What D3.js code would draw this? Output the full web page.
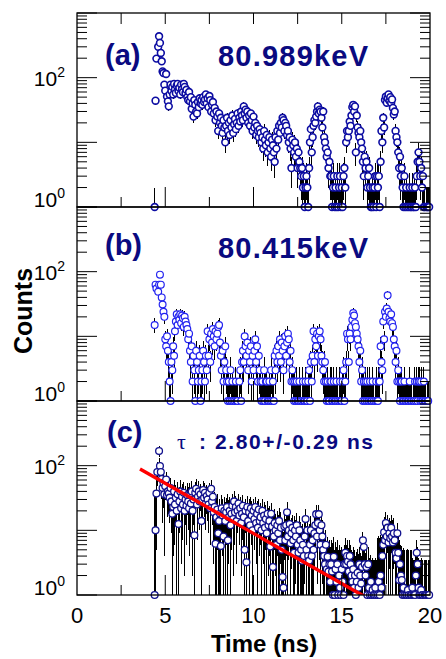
<!DOCTYPE html>
<html><head><meta charset="utf-8">
<script src="https://cdn.jsdelivr.net/npm/d3@7"></script>
<style>
body{margin:0;background:#fff}
svg{display:block}
text{font-family:"Liberation Sans",Arial,Helvetica,sans-serif}
</style>
</head><body>
<svg id="chart" width="446" height="659"></svg>
<script>
// ---- data (time bins of 0.05 ns starting at 4.40 ns) ----
const binStart = 4.40, binWidth = 0.05;

const countsA = [
  1,44,197,0,300,437,345,241,179,125,118,78,63,114,51,43,36,55,78,62,
  72,55,80,66,58,75,80,62,70,55,78,66,60,80,72,58,65,50,45,60,
  43,50,33,40,25,45,38,30,28,42,35,48,40,45,38,50,42,46,55,40,
  48,35,52,45,30,38,42,28,34,22,30,25,15,28,20,24,18,14,22,17,
  10,18,24,15,20,13,22,17,26,14,19,23,16,20,28,18,24,21,30,26,
  22,36,28,32,24,30,20,26,18,28,22,15,25,17,20,13,18,15,12,16,
  14,10,12,8,15,11,9,13,7,10,12,8,6,11,9,7,5,12,8,15,
  11,18,14,20,17,24,22,15,20,18,13,15,10,12,8,4,11,9,7,10,
  6,8,4,7,5,4,3,4,2,3,1,2,3,2,1,4,10,16,7,12,
  18,22,20,25,30,36,28,32,30,24,17,30,12,10,8,6,7,4,5,3,
  3,1,2,3,1,2,1,3,1,2,3,1,2,1,3,4,2,10,15,12,
  15,21,18,26,35,38,30,36,7,26,17,14,12,15,10,8,5,3,6,4,
  5,2,3,4,2,1,1,2,1,2,3,1,3,2,3,1,5,15,10,24,
  17,45,51,41,48,55,44,50,41,46,34,27,30,15,12,10,7,4,6,3,
  4,2,1,3,1,2,1,0,1,2,1,1,2,1,1,2,1,3,5,7,
  5,3,4,2,3,1,1,0,1,1,1,1
];

const countsB = [
  15,63,55,0,49,63,90,63,40,31,24,20,9,7,10,6,4,2,1,4,
  3,7,5,12,17,22,15,20,18,22,16,21,19,14,20,17,15,13,9,11,
  6,4,7,2,5,3,1,6,4,2,3,5,1,2,3,6,4,2,5,3,
  12,5,9,4,11,8,13,10,7,12,9,11,14,15,8,5,3,6,2,4,
  7,3,2,1,2,1,3,1,2,1,0,1,2,1,1,0,2,3,1,4,
  6,4,10,7,5,8,3,6,4,7,2,5,3,6,9,4,7,2,5,3,
  2,1,2,1,3,1,2,2,1,1,2,1,3,1,2,1,5,3,6,4,
  7,5,9,4,8,6,3,7,10,5,8,11,9,4,6,2,3,2,1,2,
  1,2,1,1,2,1,0,1,2,1,1,2,1,1,2,3,1,4,2,5,
  12,4,9,7,11,5,10,12,9,5,4,3,2,4,2,1,2,1,1,2,
  2,1,1,2,1,1,2,1,0,1,2,1,1,2,3,1,2,4,11,9,
  4,11,9,14,18,23,21,16,14,11,9,7,4,6,2,3,1,2,1,2,
  1,2,1,1,2,1,1,2,1,0,1,2,1,1,2,2,7,4,3,17,
  9,24,20,27,43,24,19,17,22,16,14,9,7,4,6,2,3,2,1,2,
  2,1,1,2,1,1,0,1,1,2,1,1,0,1,1,2,1,2,1,2,
  2,1,2,1,1,2,1,1,0,1,1,0
];

const countsC = [
  1,10,37,80,0,168,99,80,62,45,54,36,48,61,35,40,37,32,45,28,
  18,23,40,25,32,20,36,12.5,28,40,22,33,25,38,20,30,24,35,28,22,
  35,26,40,20,30,8.4,38,44,25,33,40,28,36,14,30,42,32,38,26,34,
  30,25,38,22,44,28,33,19,23,6.2,16,21,9,14,18,5.7,22,17,8,20,
  14,19,23,7,16,20,12,18,24,15,28,19,23,14,20,26,17,22,13,18,
  24,16,5,20,3.2,23,14,19,12,22,17,10,20,15,23,13,18,11,21,14,
  16,10,20,13,17,11,15,9,18,12,14,5.6,18,11.5,2.7,8,13,10,6,12,
  9,14,7,11,5,1.9,1.3,11.5,7,12,19,8,10,12.5,6.3,9,11,7,4.5,10,
  8,12,6,4.5,10,7,5,3.4,6,4,8,15,5,10,4,3.4,6,10,4,7,
  5,9,12,17.8,8,13,17.8,10,6,12,8,5,4,3,6,2.5,3.9,2.3,3,1.6,
  3,2.3,1,3.9,1,2.5,1.6,3,1,2,1.3,1,2.5,1.6,1,3,4.5,3,4,3.3,
  2.3,4,3,2,1.6,2.5,1.3,2,1,1.6,2.2,1.3,3,2,1.5,2.7,7,5.5,3,2,
  2.7,1,3,1.3,1,1.6,1,1.2,1,1,1.3,1,0,1,1.6,1,2,1.3,4,6,
  9.3,7,13,8,11,6.5,9,7.5,11,8,6.5,9,7,4.5,3.7,9,4.5,1.7,3,2,
  1.7,1,1.3,1,0,1,1,1.2,1,0,1,1,1.3,1,1,1,2,4.5,3,1.3,
  1,1,1.2,1,1,0,1,1,1,0,1,1
];
// typical uncertainty of panel (c) points, per 1-ns interval starting at 4 ns
const errorsC = [32,19,18,16,13,11,10,8,6.5,6.5,4,3,2.5,6.5,4,2.5];

const panelTags = ["(a)", "(b)", "(c)"];
const panelTitles = ["80.989keV", "80.415keV", ": 2.80+/-0.29 ns"];
const xTickValues = [0, 5, 10, 15, 20];
const yLabelDecades = [0, 2];
const xTitle = "Time (ns)";
const yTitle = "Counts";
// exponential fit shown in panel (c)
const fitTau = 2.80, fitStart = 3.57, fitEnd = 16.3, fitAmp = 89;

// ---- layout ----
const svg = d3.select("#chart");
const L = 77, R = 430;
const panelTops = [13, 207, 401];
const panelH = 194;
const x = d3.scaleLinear().domain([0, 20]).range([L, R]);
const circleColors = ["#0c0ca2", "#2424f0", "#12128e"];
const circleWidths = [1.6, 1.2, 1.3];

const series = [countsA, countsB, countsC];

series.forEach((counts, p) => {
  const top = panelTops[p], bottom = top + panelH;
  const y = d3.scaleLog().domain([1, 1000]).range([bottom, top]);
  const g = svg.append("g");
  const clipId = "clip" + p;
  svg.append("clipPath").attr("id", clipId)
    .append("rect").attr("x", L).attr("y", top).attr("width", R - L).attr("height", panelH);

  const pts = counts.map((c, i) => {
    const t = binStart + i * binWidth;
    const e = p === 2 ? errorsC[Math.min(errorsC.length - 1, Math.floor(t) - 4)] : Math.sqrt(c);
    return { t, c, e };
  }).filter(d => d.c > 0);

  // error bars
  g.append("g").attr("clip-path", `url(#${clipId})`)
    .selectAll("line").data(pts).join("line")
    .attr("x1", d => x(d.t)).attr("x2", d => x(d.t))
    .attr("y1", d => d.c - d.e > 0.5 ? y(Math.max(1, d.c - d.e)) : bottom)
    .attr("y2", d => y(Math.min(1000, d.c + d.e)))
    .attr("stroke", "#000").attr("stroke-width", 1)
    .attr("shape-rendering", "crispEdges");

  // points
  g.append("g").selectAll("circle").data(pts).join("circle")
    .attr("cx", d => x(d.t)).attr("cy", d => y(d.c)).attr("r", 3.4)
    .attr("fill", "#fff").attr("stroke", circleColors[p]).attr("stroke-width", circleWidths[p]);

  // fit line (drawn over the points)
  if (p === 2) {
    const fitPts = d3.range(fitStart, fitEnd, 0.05).map(t => [t, fitAmp * Math.exp(-(t - fitStart) / fitTau)]);
    g.append("path").attr("clip-path", `url(#${clipId})`)
      .datum(fitPts)
      .attr("fill", "none").attr("stroke", "#ff0000").attr("stroke-width", 3.4)
      .attr("d", d3.line().x(d => x(d[0])).y(d => y(Math.max(0.5, d[1]))));
  }

  // frame
  svg.append("rect").attr("x", L).attr("y", top).attr("width", R - L).attr("height", panelH)
    .attr("fill", "none").attr("stroke", "#000").attr("stroke-width", 1.3);

  // y ticks (log, both sides, inward)
  const ax = svg.append("g").attr("stroke", "#000").attr("stroke-width", 1);
  for (let k = 0; k <= 3; k++) {
    const v = Math.pow(10, k);
    [[L, 1], [R, -1]].forEach(([x0, dir]) => {
      ax.append("line").attr("x1", x0).attr("x2", x0 + dir * 20).attr("y1", y(v)).attr("y2", y(v));
    });
    if (k < 3) {
      for (let m = 2; m <= 9; m++) {
        const vv = m * v;
        [[L, 1], [R, -1]].forEach(([x0, dir]) => {
          ax.append("line").attr("x1", x0).attr("x2", x0 + dir * 10).attr("y1", y(vv)).attr("y2", y(vv));
        });
      }
    }
  }
  // x ticks every 2.5: bottom edge of every panel, top edge only for the first panel
  for (let v = 2.5; v < 20; v += 2.5) {
    const len = (v % 5 === 0) ? 20 : 10;
    ax.append("line").attr("x1", x(v)).attr("x2", x(v)).attr("y1", bottom).attr("y2", bottom - len);
    if (p === 0) {
      ax.append("line").attr("x1", x(v)).attr("x2", x(v)).attr("y1", top).attr("y2", top + 11);
    }
  }

  // y tick labels
  yLabelDecades.forEach(k => {
    const yy = y(Math.pow(10, k)) + (k === 0 ? 0 : 8);
    const tx = svg.append("text").attr("x", 65).attr("y", yy).attr("text-anchor", "end")
      .attr("font-size", 21).attr("fill", "#000").text("10");
    tx.append("tspan").attr("dy", -9).attr("font-size", 14).text(String(k));
  });

  // panel tag
  svg.append("text").attr("x", p === 2 ? 107 : 105).attr("y", [65, 255, 442][p])
    .attr("font-size", 29).attr("font-weight", "bold").attr("fill", "#0a0a80").text(panelTags[p]);
  if (p < 2) {
    svg.append("text").attr("x", 218).attr("y", [66, 258][p])
      .attr("font-size", 29).attr("font-weight", "bold").attr("fill", "#0a0a80")
      .attr("textLength", 150).attr("lengthAdjust", "spacing").text(panelTitles[p]);
  } else {
    svg.append("text").attr("x", 177).attr("y", 449)
      .attr("font-size", 22).attr("fill", "#0a0a80")
      .style("font-family", "'Liberation Serif','DejaVu Serif',serif").text("τ");
    svg.append("text").attr("x", 199).attr("y", 449)
      .attr("font-size", 21).attr("font-weight", "bold").attr("fill", "#0a0a80")
      .attr("textLength", 174).attr("lengthAdjust", "spacing").text(panelTitles[p]);
  }
});

// x tick labels
xTickValues.forEach(v => {
  svg.append("text").attr("x", x(v)).attr("y", 623).attr("text-anchor", "middle")
    .attr("font-size", 22).attr("fill", "#000").text(String(v));
});
svg.append("text").attr("x", 264).attr("y", 652).attr("text-anchor", "middle")
  .attr("font-size", 24).attr("font-weight", "bold").text(xTitle);
svg.append("text").attr("transform", "translate(32,311) rotate(-90)").attr("text-anchor", "middle")
  .attr("font-size", 25).attr("font-weight", "bold").text(yTitle);
</script>
</body></html>
